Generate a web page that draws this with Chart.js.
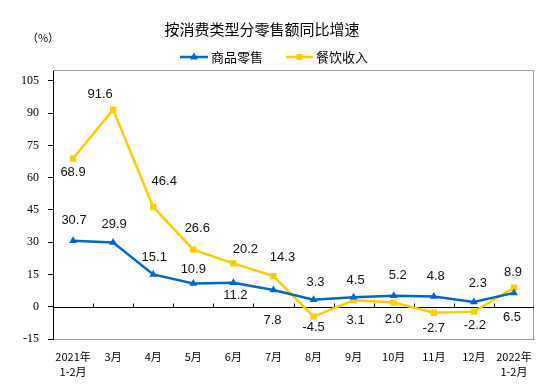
<!DOCTYPE html>
<html><head><meta charset="utf-8">
<script src="https://cdn.jsdelivr.net/npm/chart.js"></script>
<style>html,body{margin:0;padding:0;background:#fff}canvas{display:block}</style>
</head><body>
<canvas id="c" width="552" height="387"></canvas>
<script>
const categories = [['2021年','1-2月'],'3月','4月','5月','6月','7月','8月','9月','10月','11月','12月',['2022年','1-2月']];
const goodsRetail = [30.7, 29.9, 15.1, 10.9, 11.2, 7.8, 3.3, 4.5, 5.2, 4.8, 2.3, 6.5];
const catering = [68.9, 91.6, 46.4, 26.6, 20.2, 14.3, -4.5, 3.1, 2.0, -2.7, -2.2, 8.9];
const yTickValues = [-15, 0, 15, 30, 45, 60, 75, 90, 105];
const seriesNames = ['商品零售', '餐饮收入'];
const titleText = '按消费类型分零售额同比增速';
const unitText = '（%）';

// label placement offsets (style, not data)
const labelOffsets = [
  [[1,-20],[1,-18],[1,-17],[0,-14],[2,13],[-1,30],[2,-17],[2,-17],[4,-20],[2,-20],[4,-19],[-2,25]],
  [[0,14],[-13,-15],[11,-26],[4,-21],[12,-14],[9,-19],[0,11],[2,20],[0,17],[0,16],[1,14],[-1,-15]]
];

const BLUE = '#0066CC', YELLOW = '#FFCC00';

const framePlugin = {
  id: 'frame',
  beforeDatasetsDraw(chart) {
    const {ctx, chartArea: a, scales: {x, y}} = chart;
    ctx.save();
    ctx.strokeStyle = '#999'; ctx.lineWidth = 1;
    ctx.beginPath();
    ctx.moveTo(a.left, Math.round(a.top) + 0.5);
    ctx.lineTo(Math.round(a.right) - 0.5, Math.round(a.top) + 0.5);
    ctx.lineTo(Math.round(a.right) - 0.5, a.bottom);
    ctx.stroke();
    const y0 = Math.round(y.getPixelForValue(0)) + 0.5;
    ctx.strokeStyle = '#000';
    ctx.beginPath();
    ctx.moveTo(a.left, y0); ctx.lineTo(a.right, y0);
    for (let i = 0; i < x.ticks.length - 1; i++) {
      const px = Math.round((x.getPixelForValue(i) + x.getPixelForValue(i + 1)) / 2) + 0.5;
      ctx.moveTo(px, y0); ctx.lineTo(px, y0 - 4);
    }
    ctx.stroke();
    ctx.restore();
  }
};

const labelPlugin = {
  id: 'vlabels',
  afterDatasetsDraw(chart) {
    const ctx = chart.ctx;
    ctx.save();
    ctx.font = '13px "Liberation Sans", Arial, sans-serif';
    ctx.fillStyle = '#111';
    ctx.textAlign = 'center';
    ctx.textBaseline = 'middle';
    chart.data.datasets.forEach((ds, di) => {
      const meta = chart.getDatasetMeta(di);
      meta.data.forEach((pt, i) => {
        const off = labelOffsets[di][i];
        ctx.fillText(ds.data[i].toFixed(1), pt.x + off[0], pt.y + off[1]);
      });
    });
    ctx.restore();
  }
};

const headPlugin = {
  id: 'head',
  afterDraw(chart) {
    const ctx = chart.ctx;
    ctx.save();
    ctx.fillStyle = '#000';
    ctx.textBaseline = 'middle';
    ctx.textAlign = 'center';
    ctx.font = '15px "Noto Sans CJK SC", sans-serif';
    ctx.fillText(titleText, 262, 29);
    ctx.font = '11px "Noto Sans CJK SC", sans-serif';
    ctx.fillText(unitText, 43, 38);
    // legend
    const items = [{x0: 180, x1: 208, tx: 211}, {x0: 286, x1: 313, tx: 316}];
    const ly = 57;
    chart.data.datasets.forEach((ds, i) => {
      const it = items[i];
      ctx.strokeStyle = ds.borderColor; ctx.lineWidth = 2.5;
      ctx.beginPath(); ctx.moveTo(it.x0, ly); ctx.lineTo(it.x1, ly); ctx.stroke();
      const cx = (it.x0 + it.x1) / 2;
      ctx.fillStyle = ds.borderColor;
      ctx.beginPath();
      if (ds.pointStyle === 'triangle') {
        ctx.moveTo(cx, ly - 4.5); ctx.lineTo(cx + 4, ly + 2.5); ctx.lineTo(cx - 4, ly + 2.5);
      } else {
        ctx.rect(cx - 3, ly - 3, 6, 6);
      }
      ctx.closePath(); ctx.fill();
      ctx.fillStyle = '#000';
      ctx.textAlign = 'left';
      ctx.font = '13px "Noto Sans CJK SC", sans-serif';
      ctx.fillText(ds.label, it.tx, ly);
    });
    ctx.restore();
  }
};

new Chart(document.getElementById('c'), {
  type: 'line',
  data: {
    labels: categories,
    datasets: [
      {label: seriesNames[0], data: goodsRetail, borderColor: BLUE, backgroundColor: BLUE,
       borderWidth: 2.5, pointStyle: 'triangle', pointRadius: 4.5, pointBorderWidth: 0, tension: 0},
      {label: seriesNames[1], data: catering, borderColor: YELLOW, backgroundColor: YELLOW,
       borderWidth: 2.5, pointStyle: 'rect', pointRadius: 4.5, pointBorderWidth: 0, tension: 0}
    ]
  },
  options: {
    responsive: false,
    animation: false,
    devicePixelRatio: 1,
    layout: {padding: {top: 70, right: 18, bottom: -3, left: 12}},
    plugins: {legend: {display: false}, title: {display: false}, tooltip: {enabled: false}},
    scales: {
      x: {
        offset: true,
        grid: {display: false, drawTicks: false},
        border: {display: true, color: '#999', width: 1},
        ticks: {color: '#000', padding: 10, maxRotation: 0, autoSkip: false,
                font: {family: '"Noto Sans CJK SC", sans-serif', size: 11, lineHeight: 1.4}}
      },
      y: {
        min: -15, max: 110,
        afterBuildTicks(axis) { axis.ticks = yTickValues.map(v => ({value: v})); },
        grid: {display: true, drawOnChartArea: false, drawTicks: true, tickLength: 5, color: '#000'},
        border: {display: true, color: '#000', width: 1},
        ticks: {color: '#000', padding: 9,
                font: {family: '"Liberation Serif", "Times New Roman", serif', size: 12}}
      }
    }
  },
  plugins: [framePlugin, labelPlugin, headPlugin]
});
</script>
</body></html>
